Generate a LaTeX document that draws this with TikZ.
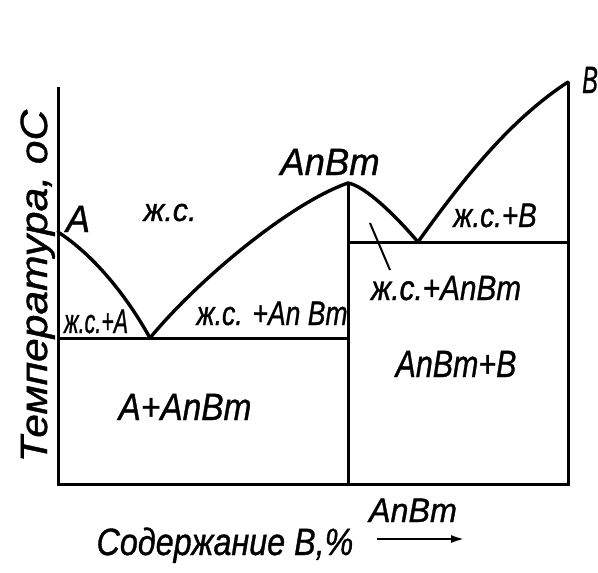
\documentclass[tikz,border=0pt]{standalone}
\usepackage{fontspec}
\setmainfont{Liberation Sans}[FakeBold=1.0]
\usepackage{graphicx}
\usetikzlibrary{arrows.meta}
\newcommand{\lab}[2]{\scalebox{#1}[1]{#2}}
\begin{document}
\begin{tikzpicture}[x=1pt,y=-1pt,
  ax/.style={line width=3pt},
  crv/.style={line width=3.4pt,line cap=round,line join=round},
  lbl/.style={inner sep=0pt,anchor=base,font=\fontsize{34}{34}\selectfont\itshape},
  big/.style={inner sep=0pt,anchor=base,font=\fontsize{38}{38}\selectfont\itshape}]
\useasboundingbox[fill=white] (0,0) rectangle (598,573);
% key points
\coordinate (ytop) at (58,87);
\coordinate (o) at (58,484);
\coordinate (br) at (568,484);
\coordinate (Bp) at (568,82);
\coordinate (Ap) at (58,232);
\coordinate (E1) at (150,338);
\coordinate (Cp) at (348,183);
\coordinate (Cb) at (348,484);
\coordinate (E2) at (418,242);
\coordinate (L1) at (58,338);
\coordinate (C1) at (348,338);
\coordinate (C2) at (348,242);
\coordinate (R2) at (568,242);
% axes and frame
\draw[ax] (ytop) -- (o) -- (br) -- (Bp);
\draw[ax] (Cp) -- (Cb);
\draw[ax] (L1) -- (C1);
\draw[ax] (C2) -- (R2);
% liquidus curves
\draw[crv] (Ap) .. controls (92,254) and (125,293) .. (E1);
\draw[crv] (E1) .. controls (195,283) and (288,204) .. (Cp);
\draw[crv] (Cp) .. controls (365,186) and (395,215) .. (E2);
\draw[crv] (E2) .. controls (468,172) and (513,118) .. (Bp);
% leader
\coordinate (ld1) at (370,223);
\coordinate (ld2) at (390,270);
\draw[line width=2pt] (ld1) -- (ld2);
% labels
\node[big] (lA) at (78,232) {\lab{0.95}{A}};
\node[lbl,font=\fontsize{32}{32}\selectfont\itshape] (lL) at (170,221) {\lab{0.95}{ж.с.}};
\node[lbl] (lLA) at (96,333) {\lab{0.63}{ж.с.+A}};
\node[lbl] (lLAB) at (272,325) {\lab{0.78}{ж.с. +An Bm}};
\node[lbl] (lLB) at (495,227) {\lab{0.82}{ж.с.+B}};
\node[lbl,font=\fontsize{35}{35}\selectfont\itshape] (lLAB2) at (446,300) {\lab{0.85}{ж.с.+AnBm}};
\node[big] (lABB) at (456,377) {\lab{0.8}{AnBm+B}};
\node[big] (lAAB) at (185,420) {\lab{0.88}{A+AnBm}};
\node[big] (lAB) at (330,175) {\lab{0.96}{AnBm}};
\node[big,anchor=base west] (lB) at (582,93) {\lab{0.62}{B}};
\node[lbl] (lAB3) at (413,522) {\lab{0.95}{AnBm}};
\node[big] (lx) at (225,555) {\lab{0.85}{Содержание В,\%}};
\node[big,rotate=90] (ly) at (47,286) {\lab{1.12}{Температура, оС}};
% arrow
\coordinate (a1) at (377,539);
\coordinate (a2) at (465,539);
\draw[line width=2.6pt,-{Latex[length=14pt,width=8pt]}] (a1) -- (a2);
\end{tikzpicture}
\end{document}
